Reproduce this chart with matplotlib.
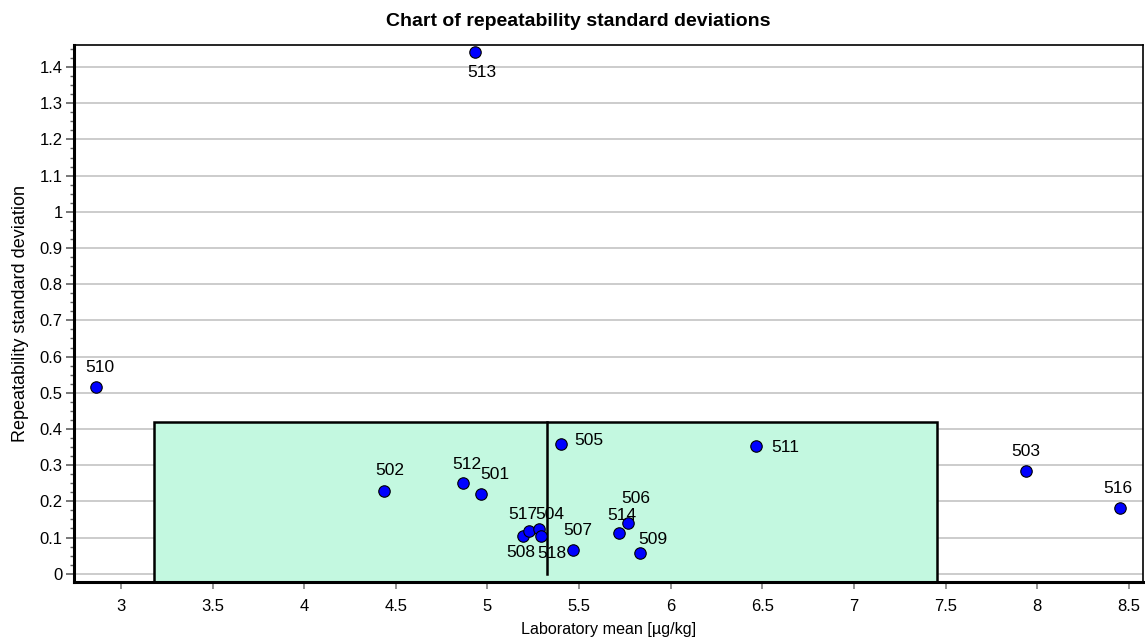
import numpy as np
import matplotlib.pyplot as plt
from matplotlib.patches import Rectangle
from matplotlib.ticker import MultipleLocator

plt.rcParams['font.family'] = ['Liberation Sans', 'DejaVu Sans']

# laboratory codes, means and repeatability standard deviations
labs = ['513', '510', '502', '512', '501', '505', '511', '503', '516',
        '508', '517', '504', '518', '507', '514', '506', '509']
lab_mean = [4.932, 2.863, 4.435, 4.866, 4.965, 5.403, 6.466, 7.940, 8.453,
            5.196, 5.229, 5.279, 5.294, 5.468, 5.716, 5.765, 5.832]
lab_sr = [1.442, 0.516, 0.229, 0.251, 0.220, 0.359, 0.353, 0.284, 0.182,
          0.104, 0.118, 0.124, 0.103, 0.066, 0.113, 0.140, 0.057]

# acceptance box and assigned value
box_lo, box_hi = 3.18, 7.455
box_top = 0.42
centre = 5.325

# label offsets in pixels (dx, dy)
label_off = {'513': (7, -21), '510': (4, 19), '502': (6, 20), '512': (4, 18),
             '501': (14, 20), '505': (28, 3), '511': (29, -2), '503': (0, 19),
             '516': (-2, 19), '508': (-3, -16), '517': (-7, 16), '504': (11, 14),
             '518': (10, -17), '507': (5, 19), '514': (3, 17), '506': (8, 25),
             '509': (13, 14)}

fig = plt.figure(figsize=(11.45, 6.4), dpi=100)
ax = fig.add_axes([0.0646, 0.0906, 0.9337, 0.8391])

ax.set_xlim(2.743, 8.578)
ax.set_ylim(-0.023, 1.461)

ax.set_axisbelow(True)
ax.yaxis.grid(True, color='#c8c8c8', lw=1.3)
ax.yaxis.set_major_locator(MultipleLocator(0.1))
ax.yaxis.set_minor_locator(MultipleLocator(0.025))
ax.xaxis.set_major_locator(MultipleLocator(0.5))
ax.yaxis.set_major_formatter(plt.FuncFormatter(lambda v, p: f'{v:g}'))
ax.xaxis.set_major_formatter(plt.FuncFormatter(lambda v, p: f'{v:g}'))

ax.add_patch(Rectangle((box_lo, -0.1), box_hi - box_lo, box_top + 0.1,
                       facecolor='#c3f8e0', edgecolor='black', lw=1.8, zorder=1.5))
ax.plot([centre, centre], [0, box_top], color='black', lw=1.8, zorder=2)

ax.scatter(lab_mean, lab_sr, s=68, color='#0000ff', edgecolor='black',
           linewidth=0.8, zorder=3)
for lab, x, y in zip(labs, lab_mean, lab_sr):
    dx, dy = label_off[lab]
    ax.annotate(lab, (x, y), xytext=(dx, dy), textcoords='offset pixels',
                ha='center', va='center', fontsize=12.5, zorder=4)

for s in ['left', 'bottom']:
    ax.spines[s].set_linewidth(2.2)
for s in ['top', 'right']:
    ax.spines[s].set_linewidth(1.2)

ax.tick_params(axis='x', which='major', length=5, width=1.2, color='#808080',
               labelsize=12, pad=7)
ax.tick_params(axis='y', which='major', length=6, width=1.2, color='#606060',
               labelsize=12, pad=2)
ax.tick_params(axis='y', which='minor', length=3, width=1.0, color='#606060')

ax.set_title('Chart of repeatability standard deviations', fontsize=14,
             fontweight='bold', x=0.4715, pad=14)
ax.set_xlabel('Laboratory mean [µg/kg]', fontsize=11.6, labelpad=6)
ax.set_ylabel('Repeatability standard deviation', fontsize=13, labelpad=8)

fig.savefig('out.png', dpi=100)
